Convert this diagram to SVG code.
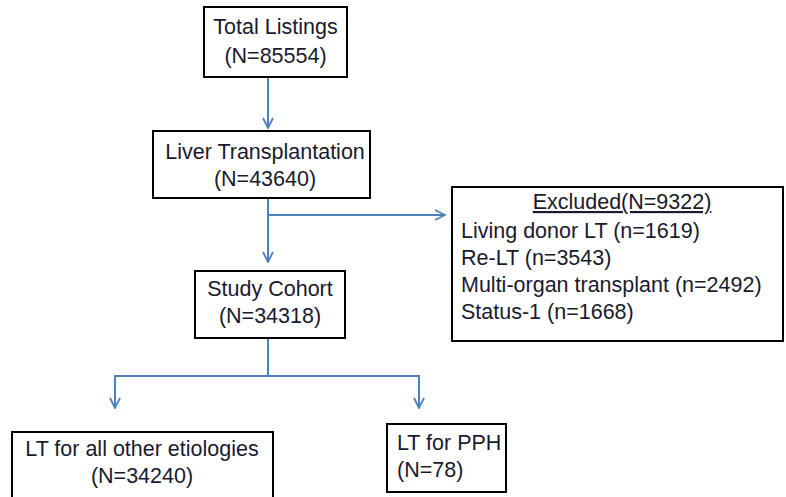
<svg xmlns="http://www.w3.org/2000/svg" width="786" height="497" viewBox="0 0 786 497">
<defs>
<style>
.box{fill:#fff;stroke:#000;stroke-width:2}
.t{font-family:"Liberation Sans",Arial,sans-serif;font-size:21.5px;fill:#1a1a2e}
.c{text-anchor:middle}
.ln{fill:none;stroke:#4f81bd;stroke-width:2}
</style>
<marker id="ah" viewBox="0 0 12 12" refX="11" refY="6" markerWidth="12" markerHeight="12" markerUnits="userSpaceOnUse" orient="auto">
<path d="M1,1 L11,6 L1,11" fill="none" stroke="#4f81bd" stroke-width="1.8"/>
</marker>
</defs>
<rect width="786" height="497" fill="#fff"/>
<g id="connectors">
<line class="ln" x1="268" y1="77" x2="268" y2="128" marker-end="url(#ah)"/>
<line class="ln" x1="268" y1="198" x2="268" y2="262" marker-end="url(#ah)"/>
<line class="ln" x1="268" y1="215" x2="445" y2="215" marker-end="url(#ah)"/>
<line class="ln" x1="268" y1="338" x2="268" y2="376"/>
<polyline class="ln" points="115,408 115,376 419,376 419,408"/>
<line class="ln" x1="115" y1="395" x2="115" y2="408" marker-end="url(#ah)"/>
<line class="ln" x1="419" y1="395" x2="419" y2="408" marker-end="url(#ah)"/>
</g>
<g id="total">
<rect class="box" x="204" y="7" width="143" height="70"/>
<text class="t c" x="275.5" y="34">Total Listings</text>
<text class="t c" x="275.5" y="63">(N=85554)</text>
</g>
<g id="liver">
<rect class="box" x="153" y="131" width="217" height="67"/>
<text class="t c" x="265" y="159">Liver Transplantation</text>
<text class="t c" x="265" y="186">(N=43640)</text>
</g>
<g id="excluded">
<rect class="box" x="452" y="187" width="331" height="154"/>
<text class="t c" x="622" y="209" text-decoration="underline">Excluded(N=9322)</text>
<text class="t" x="461" y="238">Living donor LT (n=1619)</text>
<text class="t" x="461" y="265">Re-LT (n=3543)</text>
<text class="t" x="461" y="292">Multi-organ transplant (n=2492)</text>
<text class="t" x="461" y="319">Status-1 (n=1668)</text>
</g>
<g id="cohort">
<rect class="box" x="195" y="271" width="150" height="67"/>
<text class="t c" x="270" y="296">Study Cohort</text>
<text class="t c" x="270" y="323">(N=34318)</text>
</g>
<g id="other">
<rect class="box" x="12" y="432" width="261" height="70"/>
<text class="t c" x="142" y="456">LT for all other etiologies</text>
<text class="t c" x="142" y="483">(N=34240)</text>
</g>
<g id="pph">
<rect class="box" x="387" y="424" width="119" height="68"/>
<text class="t" x="397" y="450">LT for PPH</text>
<text class="t" x="397" y="477">(N=78)</text>
</g>
</svg>
